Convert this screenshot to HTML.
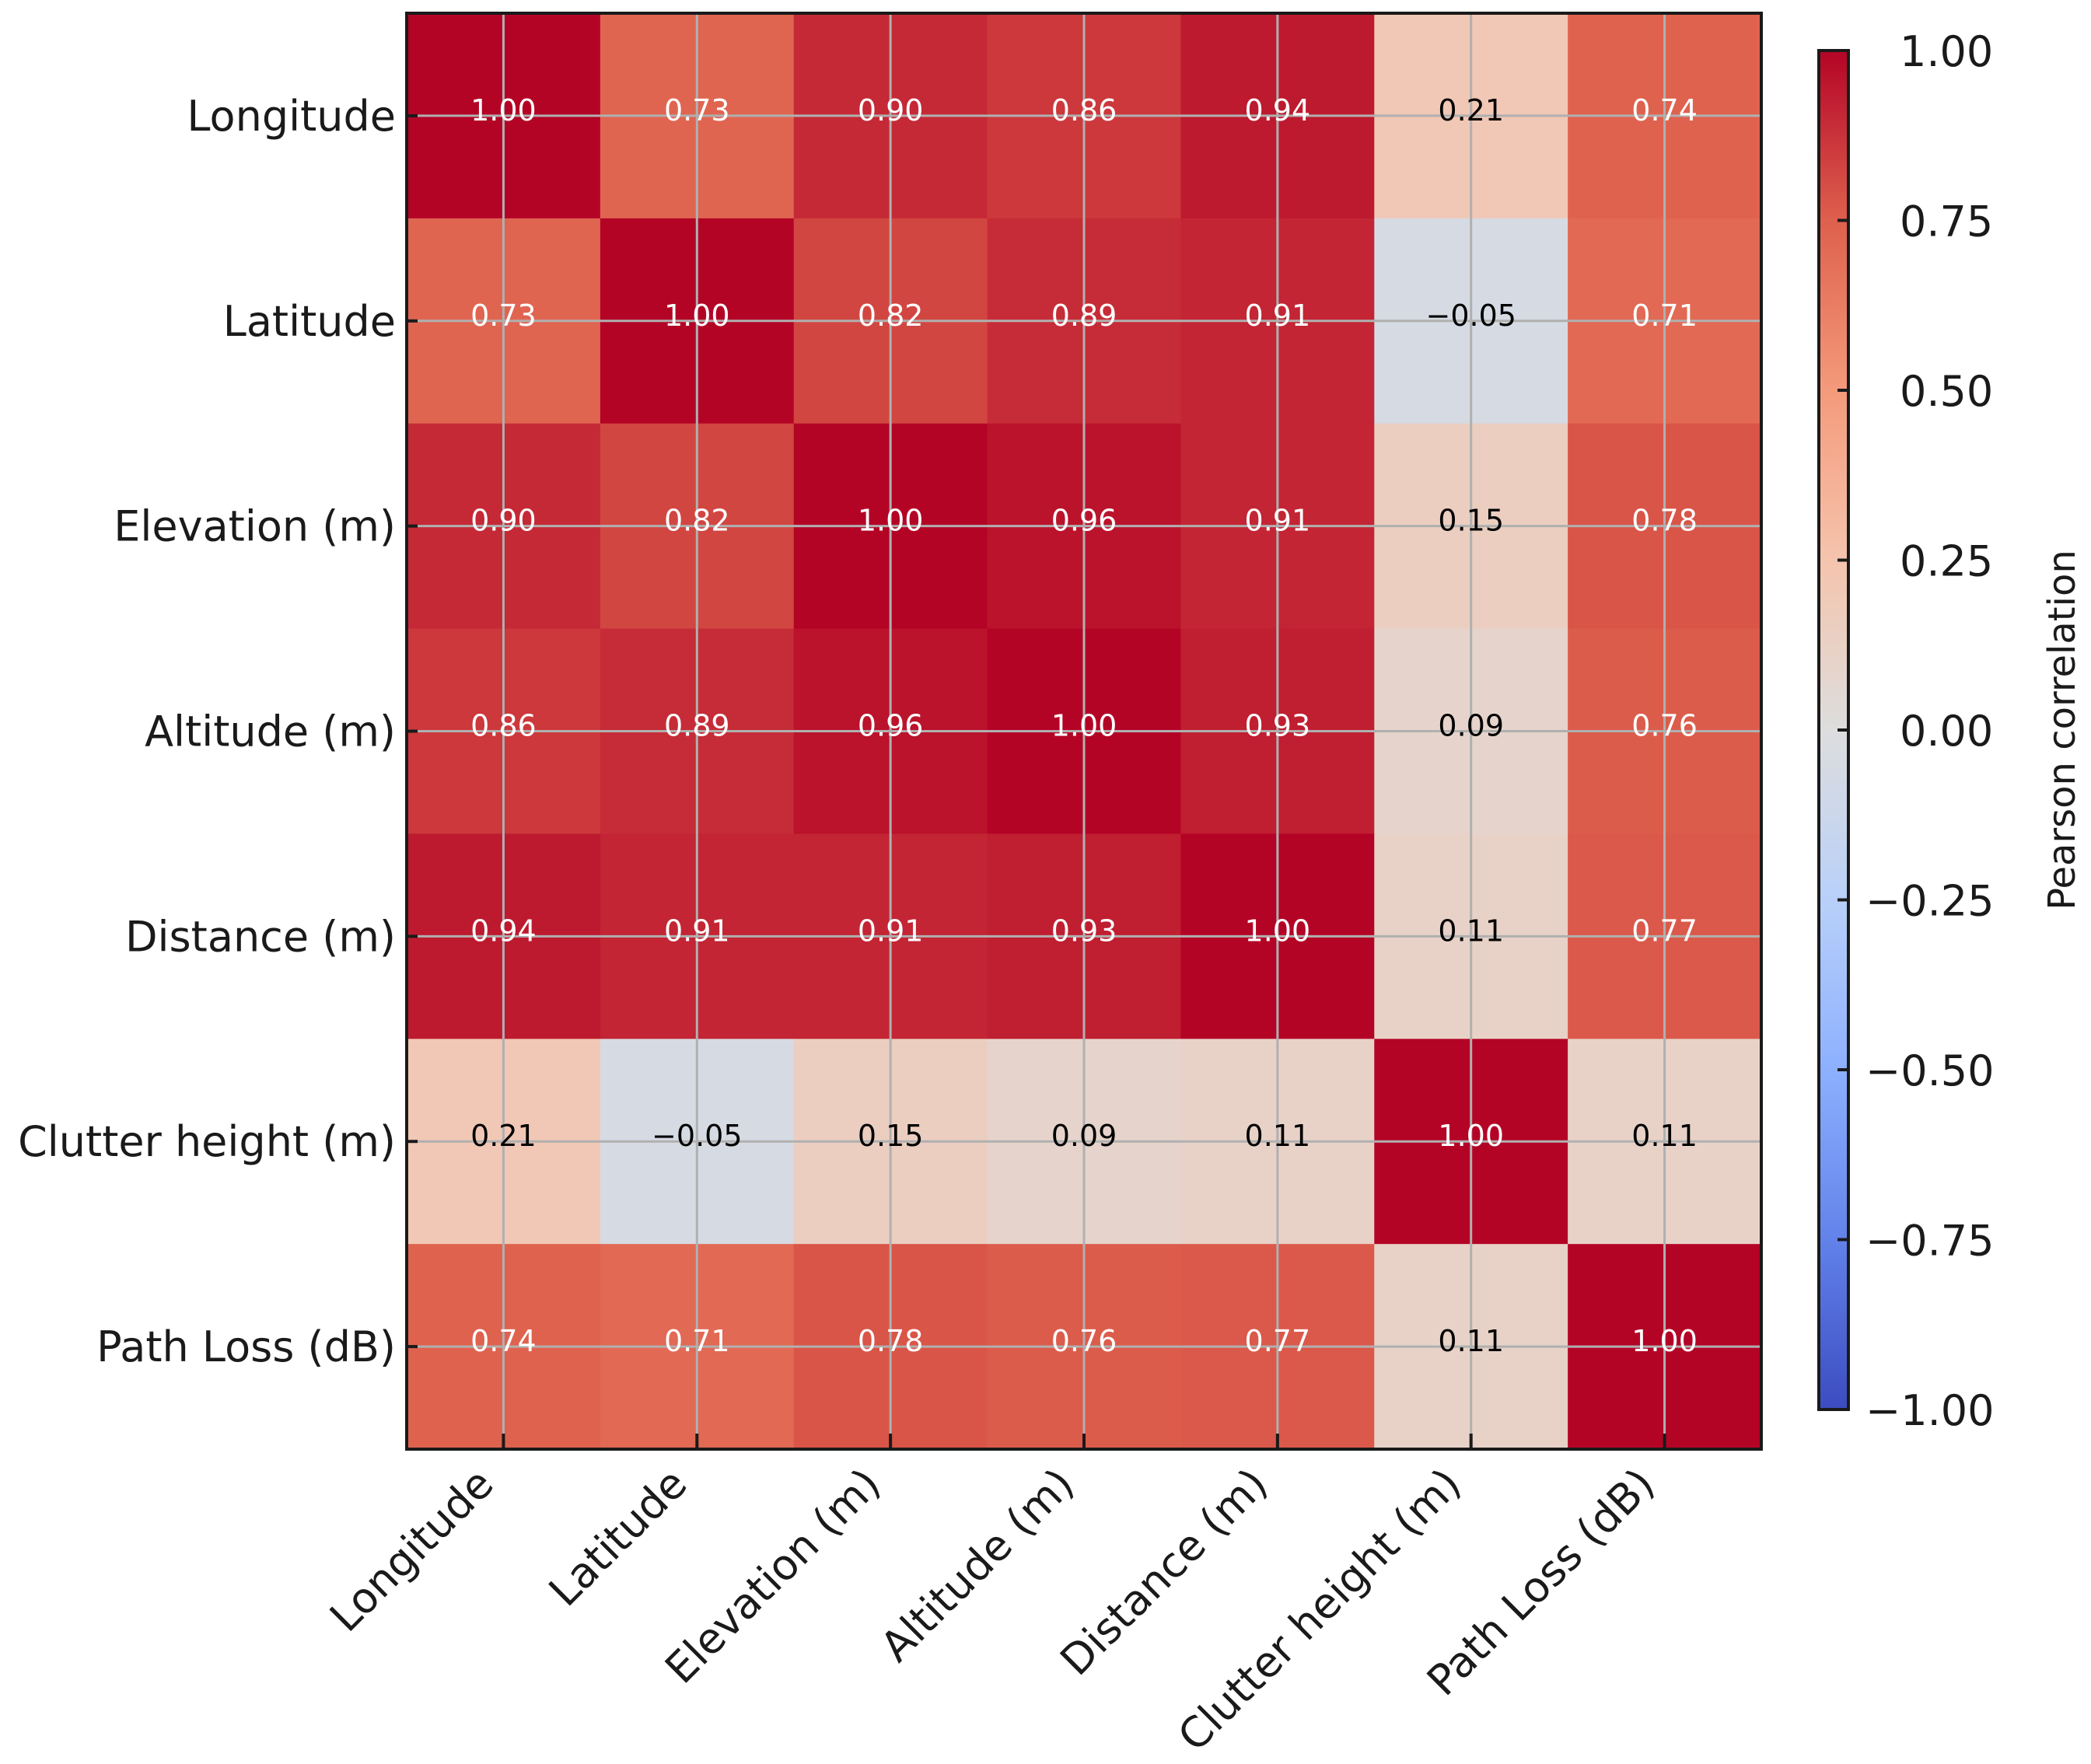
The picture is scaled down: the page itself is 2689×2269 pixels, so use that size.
<!DOCTYPE html>
<html><head><meta charset="utf-8"><style>
html,body{margin:0;padding:0;background:#fff;}
svg{display:block;font-family:"DejaVu Sans","Liberation Sans",sans-serif;}
</style></head><body>
<svg id="chart" width="2689" height="2269" viewBox="0 0 2689 2269" xmlns="http://www.w3.org/2000/svg">
<defs><linearGradient id="cbg" x1="0" y1="1" x2="0" y2="0"></linearGradient></defs>
<g id="cells"></g><g id="grid"></g><g id="annots"></g><g id="axes"></g><g id="cbar"></g>
</svg>
<script>
const labels = ["Longitude","Latitude","Elevation (m)","Altitude (m)","Distance (m)","Clutter height (m)","Path Loss (dB)"];
const row0 = [1.00,0.73,0.90,0.86,0.94,0.21,0.74];
const row1 = [0.73,1.00,0.82,0.89,0.91,-0.05,0.71];
const row2 = [0.90,0.82,1.00,0.96,0.91,0.15,0.78];
const row3 = [0.86,0.89,0.96,1.00,0.93,0.09,0.76];
const row4 = [0.94,0.91,0.91,0.93,1.00,0.11,0.77];
const row5 = [0.21,-0.05,0.15,0.09,0.11,1.00,0.11];
const row6 = [0.74,0.71,0.78,0.76,0.77,0.11,1.00];
const matrix = [row0,row1,row2,row3,row4,row5,row6];
const cbTicks = [1.00,0.75,0.50,0.25,0.00,-0.25,-0.50,-0.75,-1.00];

const NS="http://www.w3.org/2000/svg";
const L=523,R=2265,T=17,B=1864;
const n=labels.length, cw=(R-L)/n, ch=(B-T)/n;
const xPos=i=>L+cw*(i+0.5), yPos=i=>T+ch*(i+0.5);
const CBL=2339,CBR=2377,CBT=65,CBB=1813;
const cbY=v=>CBB-(v+1)/2*(CBB-CBT);
const stops=[[59,76,192],[98,130,234],[141,176,254],[184,208,249],[221,221,221],[245,196,173],[244,154,123],[222,96,77],[180,4,38]];
function cmap(v){let t=Math.max(0,Math.min(1,(v+1)/2))*8;let i=Math.min(7,Math.floor(t));let f=t-i;const a=stops[i],b=stops[i+1];
return `rgb(${Math.round(a[0]+(b[0]-a[0])*f)},${Math.round(a[1]+(b[1]-a[1])*f)},${Math.round(a[2]+(b[2]-a[2])*f)})`;}
function mk(tag,attrs,parent){const e=document.createElementNS(NS,tag);for(const k in attrs)e.setAttribute(k,attrs[k]);parent.appendChild(e);return e;}
const cells=document.getElementById('cells'),grid=document.getElementById('grid'),ann=document.getElementById('annots'),axes=document.getElementById('axes'),cb=document.getElementById('cbar');
matrix.forEach((row,r)=>row.forEach((v,c)=>{
  const e=mk('rect',{x:L+cw*c,y:T+ch*r,width:cw+0.5,height:ch+0.5,fill:cmap(v)},cells);
  
  
}));
for(let i=0;i<n;i++){
  const gv=mk('line',{x1:xPos(i),x2:xPos(i),y1:T,y2:B,stroke:'#b0b0b0','stroke-width':3},grid);
  
  
  const gh=mk('line',{x1:L,x2:R,y1:yPos(i),y2:yPos(i),stroke:'#b0b0b0','stroke-width':3},grid);
  
  
}
matrix.forEach((row,r)=>row.forEach((v,c)=>{
  const t=mk('text',{x:xPos(c),y:yPos(r)+6,'text-anchor':'middle','font-size':38,fill:(Math.abs(v)>0.5?'#fff':'#000')},ann);
  t.textContent=(v<0?'\u2212':'')+Math.abs(v).toFixed(2);
  
  
}));
const frame=mk('rect',{x:L,y:T,width:R-L,height:B-T,fill:'none',stroke:'#1a1a1a','stroke-width':4},axes);


labels.forEach((lab,i)=>{
  const yl=mk('text',{x:L-14,y:yPos(i)+19,'text-anchor':'end','font-size':54,fill:'#1a1a1a'},axes);
  yl.textContent=lab;
  
  
  mk('line',{x1:L,x2:L+14,y1:yPos(i),y2:yPos(i),stroke:'#1a1a1a','stroke-width':4},axes);
  mk('line',{x1:xPos(i),x2:xPos(i),y1:B-20,y2:B,stroke:'#1a1a1a','stroke-width':4},axes);
  const ax=xPos(i)-10, ay=B+48;
  const xl=mk('text',{x:ax,y:ay,'text-anchor':'end','font-size':54,fill:'#1a1a1a',transform:`rotate(-45 ${ax} ${ay})`},axes);
  xl.textContent=lab;
  
  
});
const g=document.getElementById('cbg');
for(let k=0;k<=16;k++){mk('stop',{offset:k/16,'stop-color':cmap(-1+2*k/16)},g);}
const bar=mk('rect',{x:CBL,y:CBT,width:CBR-CBL,height:CBB-CBT,fill:'url(#cbg)',stroke:'#1a1a1a','stroke-width':4},cb);


cbTicks.forEach(v=>{
  mk('line',{x1:CBR-14,x2:CBR,y1:cbY(v),y2:cbY(v),stroke:'#1a1a1a','stroke-width':4},cb);
  const t=mk('text',{x:CBR+66,y:cbY(v)+20,'font-size':54,fill:'#1a1a1a'},cb);
  t.textContent=(v<0?'\u2212':'')+Math.abs(v).toFixed(2);
  if(v<0){t.setAttribute('x',CBR+22);}
  
  
});
const cl=mk('text',{x:2668,y:(CBT+CBB)/2,'text-anchor':'middle','font-size':48,fill:'#1a1a1a',transform:`rotate(-90 2668 ${(CBT+CBB)/2})`},cb);
cl.textContent='Pearson correlation';


</script>
</body></html>
